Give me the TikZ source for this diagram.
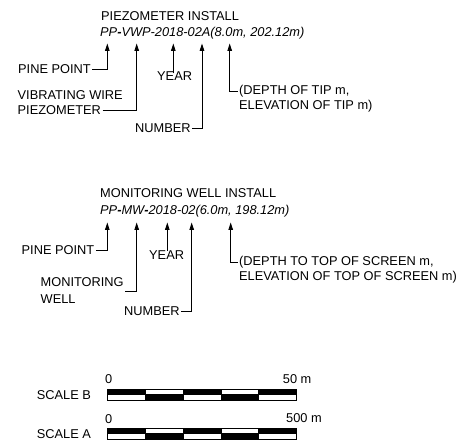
\documentclass[tikz,border=0pt]{standalone}
\usepackage{fontspec}
\setmainfont{Liberation Sans}
\usetikzlibrary{arrows.meta,calc}
\newcommand\lblfont{\fontsize{12.8}{15.4}\selectfont}
\begin{document}
\begin{tikzpicture}[x=1pt,y=1pt,
  lbl/.style={font=\lblfont, inner sep=1.5pt, anchor=base west},
  lead/.style={line width=0.8pt, -{Triangle[length=7.5pt,width=4.6pt]}},
  barcell/.style={draw=black, line width=0.8pt}]
\useasboundingbox (0,0) rectangle (474,444);

% ---------- Piezometer ----------
\node[lbl] (title1) at (99.5,423.3) {PIEZOMETER INSTALL};
\node[lbl] (code1) at (98.5,407) {\itshape PP\textbf{-}VWP-2018-02A(8.0m, 202.12m)};
\coordinate (t1) at (107.3,400.5);
\coordinate (t2) at (136.7,400.5);
\coordinate (t3) at (173.3,400.5);
\coordinate (t4) at (202,400.5);
\coordinate (t5) at (229.7,400.5);

\node[lbl] (pp1) at (16.5,370) {PINE POINT};
\node[lbl] (yr1) at (155.5,363) {YEAR};
\node[lbl] (vw1) at (16,344) {VIBRATING WIRE};
\node[lbl] (vw2) at (16,329) {PIEZOMETER};
\node[lbl] (nb1) at (133.5,311) {NUMBER};
\node[lbl] (d1a) at (237.5,349) {(DEPTH OF TIP m,};
\node[lbl] (d1b) at (237.5,334) {ELEVATION OF TIP m)};

\draw[lead] (pp1.east) -| (t1);
\draw[lead] (vw2.east) -| (t2);
\draw[lead] ([yshift=-3pt]yr1.north -| t3) -- (t3);
\draw[lead] (nb1.east) -| (t4);
\draw[lead] (d1a.west) -| (t5);

% ---------- Monitoring well ----------
\node[lbl] (title2) at (98.5,246) {MONITORING WELL INSTALL};
\node[lbl] (code2) at (98.5,229.5) {\itshape PP\textbf{-}MW\textbf{-}2018-02(6.0m, 198.12m)};
\coordinate (s1) at (107.3,221.5);
\coordinate (s2) at (136.7,221.5);
\coordinate (s3) at (167.3,221.5);
\coordinate (s4) at (191.7,221.5);
\coordinate (s5) at (230.7,221.5);

\node[lbl] (pp2) at (20,189) {PINE POINT};
\node[lbl] (yr2) at (147.5,184) {YEAR};
\node[lbl] (mw1) at (39,157) {MONITORING};
\node[lbl] (mw2) at (39,140) {WELL};
\node[lbl] (nb2) at (122.5,128.3) {NUMBER};
\node[lbl] (d2a) at (237.5,178) {(DEPTH TO TOP OF SCREEN m,};
\node[lbl] (d2b) at (237.5,163) {ELEVATION OF TOP OF SCREEN m)};

\coordinate (mwm) at ($(mw1.east)!0.5!(mw1.east |- mw2.east)$);
\draw[lead] (pp2.east) -| (s1);
\draw[lead] (mwm) -| (s2);
\draw[lead] ([yshift=-1.5pt]yr2.north -| s3) -- (s3);
\draw[lead] (nb2.east) -| (s4);
\draw[lead] (d2a.west) -| (s5);

% ---------- Scale bars ----------
\def\cw{37.88}
% Scale B
\foreach \i in {0,...,4}{
  \pgfmathsetmacro\xa{107.3+\i*\cw}
  \pgfmathsetmacro\xb{107.3+(\i+1)*\cw}
  \ifodd\i
    \filldraw[barcell, fill=white] (\xa,49.5) rectangle (\xb,54.7);
    \filldraw[barcell, fill=black] (\xa,44) rectangle (\xb,49.5);
  \else
    \filldraw[barcell, fill=black] (\xa,49.5) rectangle (\xb,54.7);
    \filldraw[barcell, fill=white] (\xa,44) rectangle (\xb,49.5);
  \fi
}
% Scale A
\foreach \i in {0,...,4}{
  \pgfmathsetmacro\xa{107.3+\i*\cw}
  \pgfmathsetmacro\xb{107.3+(\i+1)*\cw}
  \ifodd\i
    \filldraw[barcell, fill=white] (\xa,10.5) rectangle (\xb,15.7);
    \filldraw[barcell, fill=black] (\xa,4.7) rectangle (\xb,10.5);
  \else
    \filldraw[barcell, fill=black] (\xa,10.5) rectangle (\xb,15.7);
    \filldraw[barcell, fill=white] (\xa,4.7) rectangle (\xb,10.5);
  \fi
}
\node[lbl] (zb) at (103.5,60) {0};
\node[lbl] (eb) at (281.2,60) {50 m};
\node[lbl] (sb) at (35.2,44) {SCALE B};
\node[lbl] (za) at (103.5,20.7) {0};
\node[lbl] (ea) at (284.5,21) {500 m};
\node[lbl] (sa) at (35.2,5) {SCALE A};
\end{tikzpicture}
\end{document}
